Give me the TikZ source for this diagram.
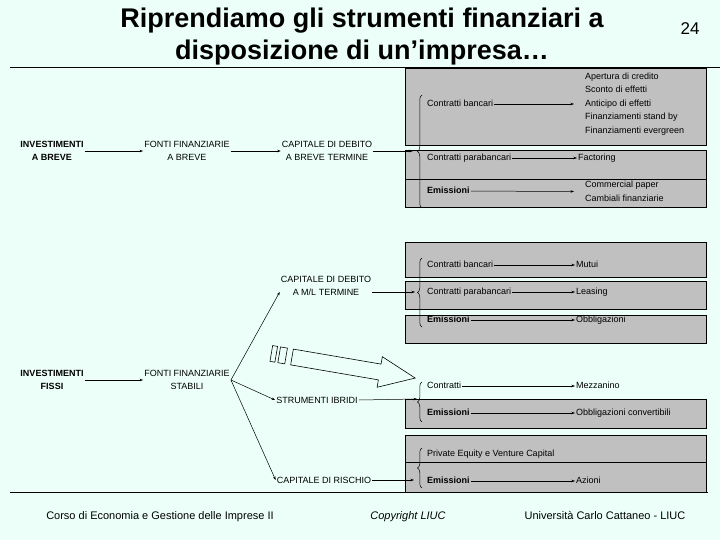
\documentclass[tikz,border=0pt]{standalone}
\usepackage{fontspec}
\setmainfont{Liberation Sans}
\usetikzlibrary{arrows.meta,decorations.pathreplacing}
\definecolor{bgmint}{RGB}{236,255,248}
\definecolor{boxgray}{RGB}{192,192,192}

\begin{document}
\begin{tikzpicture}[x=1pt,y=-1pt,
  lbl/.style={font=\fontsize{9}{12.5}\selectfont,inner sep=1pt,align=center},
  lblb/.style={lbl,font=\fontsize{9}{12.5}\selectfont\bfseries},
  item/.style={font=\fontsize{9}{13.5}\selectfont,inner sep=1pt,anchor=west,text height=6.5pt,text depth=2pt},
  itemb/.style={item,font=\fontsize{9}{13.5}\selectfont\bfseries},
  lst/.style={font=\fontsize{9}{13.5}\selectfont,inner sep=1pt,anchor=west,align=left},
  foot/.style={font=\fontsize{11}{13}\selectfont,anchor=base},
  box/.style={draw,fill=boxgray,line width=0.6pt},
  arr/.style={-{Stealth[length=3.5pt,width=2.5pt]},line width=0.5pt},
  brc/.style={decorate,decoration={brace,amplitude=4.5pt},line width=0.5pt}]
% Background
\fill[bgmint] (0,0) rectangle (720,540);
\useasboundingbox (0,0) rectangle (720,540);
% Title
\node[font=\fontsize{27}{32}\selectfont\bfseries,align=center] (title) at (362,37)
  {Riprendiamo gli strumenti finanziari a\\disposizione di un’impresa…};
\node[font=\fontsize{17}{20}\selectfont] (pg) at (690,29) {24};
\draw[line width=0.8pt] (10,67) -- (720,67);
% Grey boxes
\draw[box] (405,68) rectangle (706,145);
\draw[box] (405,150) rectangle (706,179);
\draw[box] (405,179) rectangle (706,207);
\draw[box] (405,242) rectangle (706,277);
\draw[box] (405,281) rectangle (706,309);
\draw[box] (405,315) rectangle (706,343);
\draw[box] (405,399) rectangle (706,428);
\draw[box] (405,435) rectangle (706,492);
\draw[line width=0.6pt] (405,462) -- (706,462);
% Short term instruments
\node[item] (cb1) at (426,104) {Contratti bancari};
\node[lst] (lst1) at (584,104) {Apertura di credito\\Sconto di effetti\\Anticipo di effetti\\Finanziamenti stand by\\Finanziamenti evergreen};
\node[item] (cp1) at (426,158) {Contratti parabancari};
\node[item] (fact) at (577,158) {Factoring};
\node[itemb] (em1) at (426,191) {Emissioni};
\node[lst] (lst3) at (584,191.5) {Commercial paper\\Cambiali finanziarie};
\draw[arr,shorten >=10pt] (cb1) -- (lst1.west);
\draw[arr] (cp1) -- (fact);
\draw[arr,shorten >=10pt] (em1) -- (lst3.west);
\draw[brc] (422,208) -- (422,95);
\coordinate (t1) at (413,151);
% Medium / long term instruments
\node[item] (cb2) at (426,265) {Contratti bancari};
\node[item] (mut) at (575,265) {Mutui};
\node[item] (cp2) at (426,292) {Contratti parabancari};
\node[item] (leas) at (575,292) {Leasing};
\node[itemb] (em2) at (426,320) {Emissioni};
\node[item] (obb) at (575,320) {Obbligazioni};
\draw[arr] (cb2) -- (mut);
\draw[arr] (cp2) -- (leas);
\draw[arr] (em2) -- (obb);
\draw[brc] (422,327) -- (422,258);
\coordinate (t2) at (415,292);
% Hybrid instruments
\node[item] (co) at (426,386) {Contratti};
\node[item] (mezz) at (575,386) {Mezzanino};
\node[itemb] (em3) at (426,413) {Emissioni};
\node[item] (obc) at (575,413) {Obbligazioni convertibili};
\draw[arr] (co) -- (mezz);
\draw[arr] (em3) -- (obc);
\draw[brc] (422,422) -- (422,382);
\coordinate (t3) at (417,399);
% Equity
\node[item] (pe) at (426,454) {Private Equity e Venture Capital};
\node[itemb] (em4) at (426,481) {Emissioni};
\node[item] (az) at (575,481) {Azioni};
\draw[arr] (em4) -- (az);
\draw[brc] (422,488) -- (422,448);
\coordinate (t4) at (414,480);
% Short term chain
\node[lblb] (ib) at (52,151) {INVESTIMENTI\\A BREVE};
\node[lbl] (fb) at (187,151) {FONTI FINANZIARIE\\A BREVE};
\node[lbl] (cdb) at (327,151) {CAPITALE DI DEBITO\\A BREVE TERMINE};
\draw[arr] (ib) -- (fb);
\draw[arr] (fb) -- (cdb);
\draw[arr] (cdb.east |- t1) -- (t1);
% Fixed investments chain
\node[lblb] (ifx) at (52,380) {INVESTIMENTI\\FISSI};
\node[lbl] (fs) at (187,380) {FONTI FINANZIARIE\\STABILI};
\node[lbl] (cdml) at (326,286) {CAPITALE DI DEBITO\\A M/L TERMINE};
\node[lbl] (si) at (317,400) {STRUMENTI IBRIDI};
\node[lbl] (cr) at (324,480) {CAPITALE DI RISCHIO};
\draw[arr] (ifx) -- (fs);
\draw[arr] (fs.east) -- (cdml.west |- t2);
\draw[arr] (fs.east) -- (si.west);
\draw[arr] (fs.east) -- (cr.west);
\draw[arr] (cdml.east |- t2) -- (t2);
\draw[arr] (si.east) -- (t3);
\draw[arr] (cr.east) -- (t4);
% Striped block arrow
\begin{scope}[shift={(292,357)},rotate=-9.7,line width=0.6pt]
  \draw (0,-8) -- (89,-8) -- (89,-15.5) -- (125,0) -- (89,15.5) -- (89,8) -- (0,8) -- cycle;
  \draw (-13,-8) rectangle (-6,8);
  \draw (-21,-8) rectangle (-16,8);
\end{scope}
% Footer
\draw[line width=0.8pt] (10,492) -- (708,492);
\node[foot] (f1) at (160,519) {Corso di Economia e Gestione delle Imprese II};
\node[foot,font=\fontsize{11}{13}\selectfont\itshape] (f2) at (408,519) {Copyright LIUC};
\node[foot] (f3) at (605,519) {Università Carlo Cattaneo - LIUC};
\end{tikzpicture}
\end{document}
